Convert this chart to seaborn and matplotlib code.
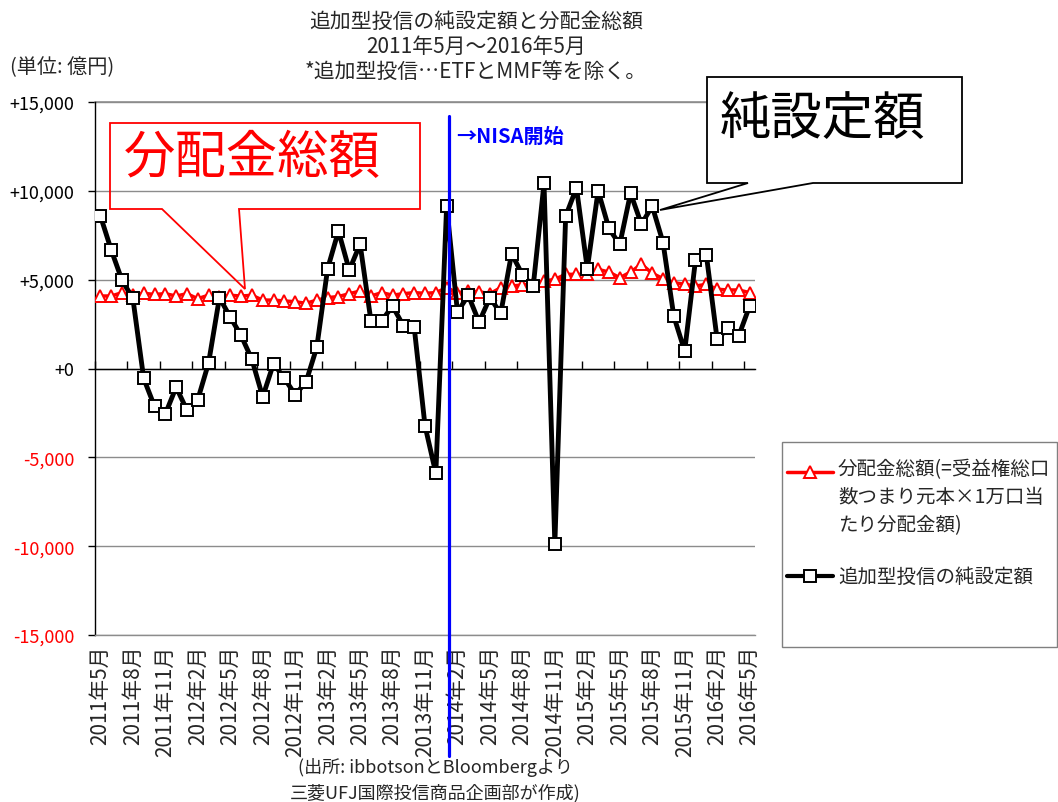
import matplotlib
matplotlib.use("Agg")
import matplotlib.pyplot as plt
import seaborn as sns
import pandas as pd
from matplotlib.patches import Polygon, Rectangle
from matplotlib.lines import Line2D
from matplotlib.ticker import FixedLocator
from matplotlib.transforms import blended_transform_factory

# ---------------- data ----------------
months = [f"{y}年{m}月" for y in range(2011, 2017) for m in range(1, 13)
          if (y, m) >= (2011, 5) and (y, m) <= (2016, 5)]

net_flow = [8590, 6670, 4960, 3950, -560, -2130, -2560, -1050, -2350, -1750,
            320, 3990, 2890, 1860, 510, -1600, 280, -550, -1470, -770,
            1200, 5620, 7740, 5530, 7010, 2690, 2690, 3510, 2410, 2330,
            -3220, -5900, 9150, 3180, 4120, 2610, 3990, 3100, 6470, 5280,
            4620, 10420, -9870, 8570, 10170, 5620, 10000, 7880, 6980, 9870,
            8120, 9140, 7090, 2930, 980, 6110, 6410, 1640, 2270, 1840,
            3510]

distribution = [4080, 4080, 4270, 4120, 4230, 4170, 4210, 4080, 4210, 3930,
                4130, 4050, 4120, 4080, 4120, 3850, 3850, 3800, 3760, 3670,
                3850, 3990, 4050, 4210, 4360, 4080, 4270, 4130, 4210, 4270,
                4230, 4270, 4550, 4270, 4360, 4320, 4210, 4550, 4640, 4700,
                4780, 4920, 5020, 5300, 5300, 5300, 5580, 5430, 5110, 5430,
                5870, 5360, 5060, 4830, 4740, 4640, 4740, 4460, 4420, 4420,
                4270]

xtick_labels = ["2011年5月", "2011年8月", "2011年11月", "2012年2月", "2012年5月",
                "2012年8月", "2012年11月", "2013年2月", "2013年5月", "2013年8月",
                "2013年11月", "2014年2月", "2014年5月", "2014年8月", "2014年11月",
                "2015年2月", "2015年5月", "2015年8月", "2015年11月", "2016年2月",
                "2016年5月"]
yticks = [15000, 10000, 5000, 0, -5000, -10000, -15000]
ytick_labels = ["+15,000", "+10,000", "+5,000", "+0", "-5,000", "-10,000", "-15,000"]

title_lines = ["追加型投信の純設定額と分配金総額", "2011年5月～2016年5月",
               "*追加型投信…ETFとMMF等を除く。"]
dist_label = "分配金総額(=受益権総口\n数つまり元本×1万口当\nたり分配金額)"
net_label = "追加型投信の純設定額"
nisa_index = 32.2  # just after 2014年1月

# ---------------- style ----------------
sns.set_style("white")
plt.rcParams['font.family'] = ['Noto Sans CJK JP', 'DejaVu Sans']
plt.rcParams['axes.unicode_minus'] = False

W, H = 1058, 803
fig = plt.figure(figsize=(W / 100, H / 100), dpi=100)
ax = fig.add_axes([95 / W, 1 - 636 / H, 660 / W, 533 / H])


def px(x, y):
    return (x / W, 1 - y / H)


df = pd.DataFrame({"idx": range(len(months)), "month": months,
                   "net": net_flow, "dist": distribution})

sns.lineplot(data=df, x="idx", y="dist", ax=ax, color="#FF0000", lw=2.5,
             marker="^", markersize=8, markerfacecolor="white",
             markeredgecolor="#FF0000", markeredgewidth=1.4, zorder=3)
sns.lineplot(data=df, x="idx", y="net", ax=ax, color="black", lw=3.5,
             marker="s", markersize=8.5, markerfacecolor="white",
             markeredgecolor="black", markeredgewidth=1.4, zorder=4)

ax.set_xlabel("")
ax.set_ylabel("")
ax.set_xlim(-0.5, len(months) - 0.5)
ax.set_ylim(-15000, 15000)

ax.set_yticks(yticks)
ax.set_yticklabels(ytick_labels)
for lbl, v in zip(ax.get_yticklabels(), yticks):
    lbl.set_color("#FF0000" if v < 0 else "black")
ax.tick_params(axis='y', direction='out', length=5, width=1, pad=10,
               labelsize=13, left=True, color="black")

ax.yaxis.grid(True, color="#8c8c8c", lw=1)
ax.xaxis.grid(False)
ax.set_axisbelow(True)

ax.set_xticks(list(range(0, len(months), 3)))
ax.set_xticklabels(xtick_labels)
ax.xaxis.set_minor_locator(FixedLocator([i - 0.5 for i in range(0, len(months), 3)]))
ax.tick_params(axis='x', which='major', bottom=True, top=False, length=0,
               pad=7, labelsize=15, labelrotation=90)
ax.tick_params(axis='x', which='minor', bottom=False, top=True,
               direction='out', length=6, width=1, color="black")

ax.spines['top'].set_position(('data', 0))
ax.spines['top'].set_color("black")
ax.spines['top'].set_linewidth(1)
ax.spines['left'].set_color("black")
ax.spines['left'].set_linewidth(1)
ax.spines['right'].set_visible(False)
ax.spines['bottom'].set_color("#8c8c8c")
ax.spines['bottom'].set_linewidth(1)
ax.axhline(15000, color="#8c8c8c", lw=1.2, clip_on=False, zorder=1)

# NISA vertical line
trans = blended_transform_factory(ax.transData, fig.transFigure)
ax.add_line(Line2D([nisa_index, nisa_index], [1 - 117 / H, 1 - 757 / H],
                   transform=trans, color="#0000FF", lw=2.3, clip_on=False, zorder=6))
fig.text(*px(456, 136), "→NISA開始", color="#0000FF", fontsize=14.5,
         fontweight="bold", ha="left", va="center")

# titles
for i, t in enumerate(title_lines):
    fig.text(*px(476, 22 + 25 * i), t, fontsize=15, ha="center", va="center")
fig.text(*px(10, 68), "(単位: 億円)", fontsize=14.5, ha="left", va="center")

# source
fig.text(*px(435, 768), "(出所: ibbotsonとBloombergより", fontsize=13,
         ha="center", va="center")
fig.text(*px(435, 793), "三菱UFJ国際投信商品企画部が作成)", fontsize=13,
         ha="center", va="center")

# red callout
red_poly = [px(110, 124), px(420, 124), px(420, 210), px(239, 210),
            px(245, 290), px(162, 210), px(110, 210)]
fig.add_artist(Polygon(red_poly, closed=True, fill=False, edgecolor="#FF0000",
                       lw=1.3, transform=fig.transFigure, zorder=7))
fig.text(*px(252, 158), "分配金総額", fontsize=37, color="#FF0000",
         ha="center", va="center", zorder=8)

# black callout
blk_poly = [px(707, 78), px(962, 78), px(962, 184), px(813, 184),
            px(660, 211), px(748, 184), px(707, 184)]
fig.add_artist(Polygon(blk_poly, closed=True, facecolor="white", edgecolor="black",
                       lw=1.3, transform=fig.transFigure, zorder=7))
fig.text(*px(822, 119), "純設定額", fontsize=37, color="black",
         ha="center", va="center", zorder=8)

# legend (manual)
fig.add_artist(Rectangle(px(782, 648), (1057 - 782) / W, (648 - 443) / H,
                         facecolor="white", edgecolor="#808080", lw=1,
                         transform=fig.transFigure, zorder=2))
for ypix, col, mk, ms, lw in [(473, "#FF0000", "^", 8, 2.5), (577, "black", "s", 8.5, 3)]:
    fig.add_artist(Line2D([787 / W, 833 / W], [1 - ypix / H] * 2, color=col, lw=lw,
                          transform=fig.transFigure, zorder=3))
    fig.add_artist(Line2D([810 / W], [1 - ypix / H], color=col, marker=mk,
                          markersize=ms, markerfacecolor="white",
                          markeredgecolor=col, markeredgewidth=1.4,
                          transform=fig.transFigure, zorder=4))
fig.text(*px(838, 459), dist_label, fontsize=14, ha="left", va="top",
         linespacing=1.45, zorder=5)
fig.text(*px(838, 577), net_label, fontsize=14, ha="left", va="center", zorder=5)

fig.savefig("out.png", dpi=100)
